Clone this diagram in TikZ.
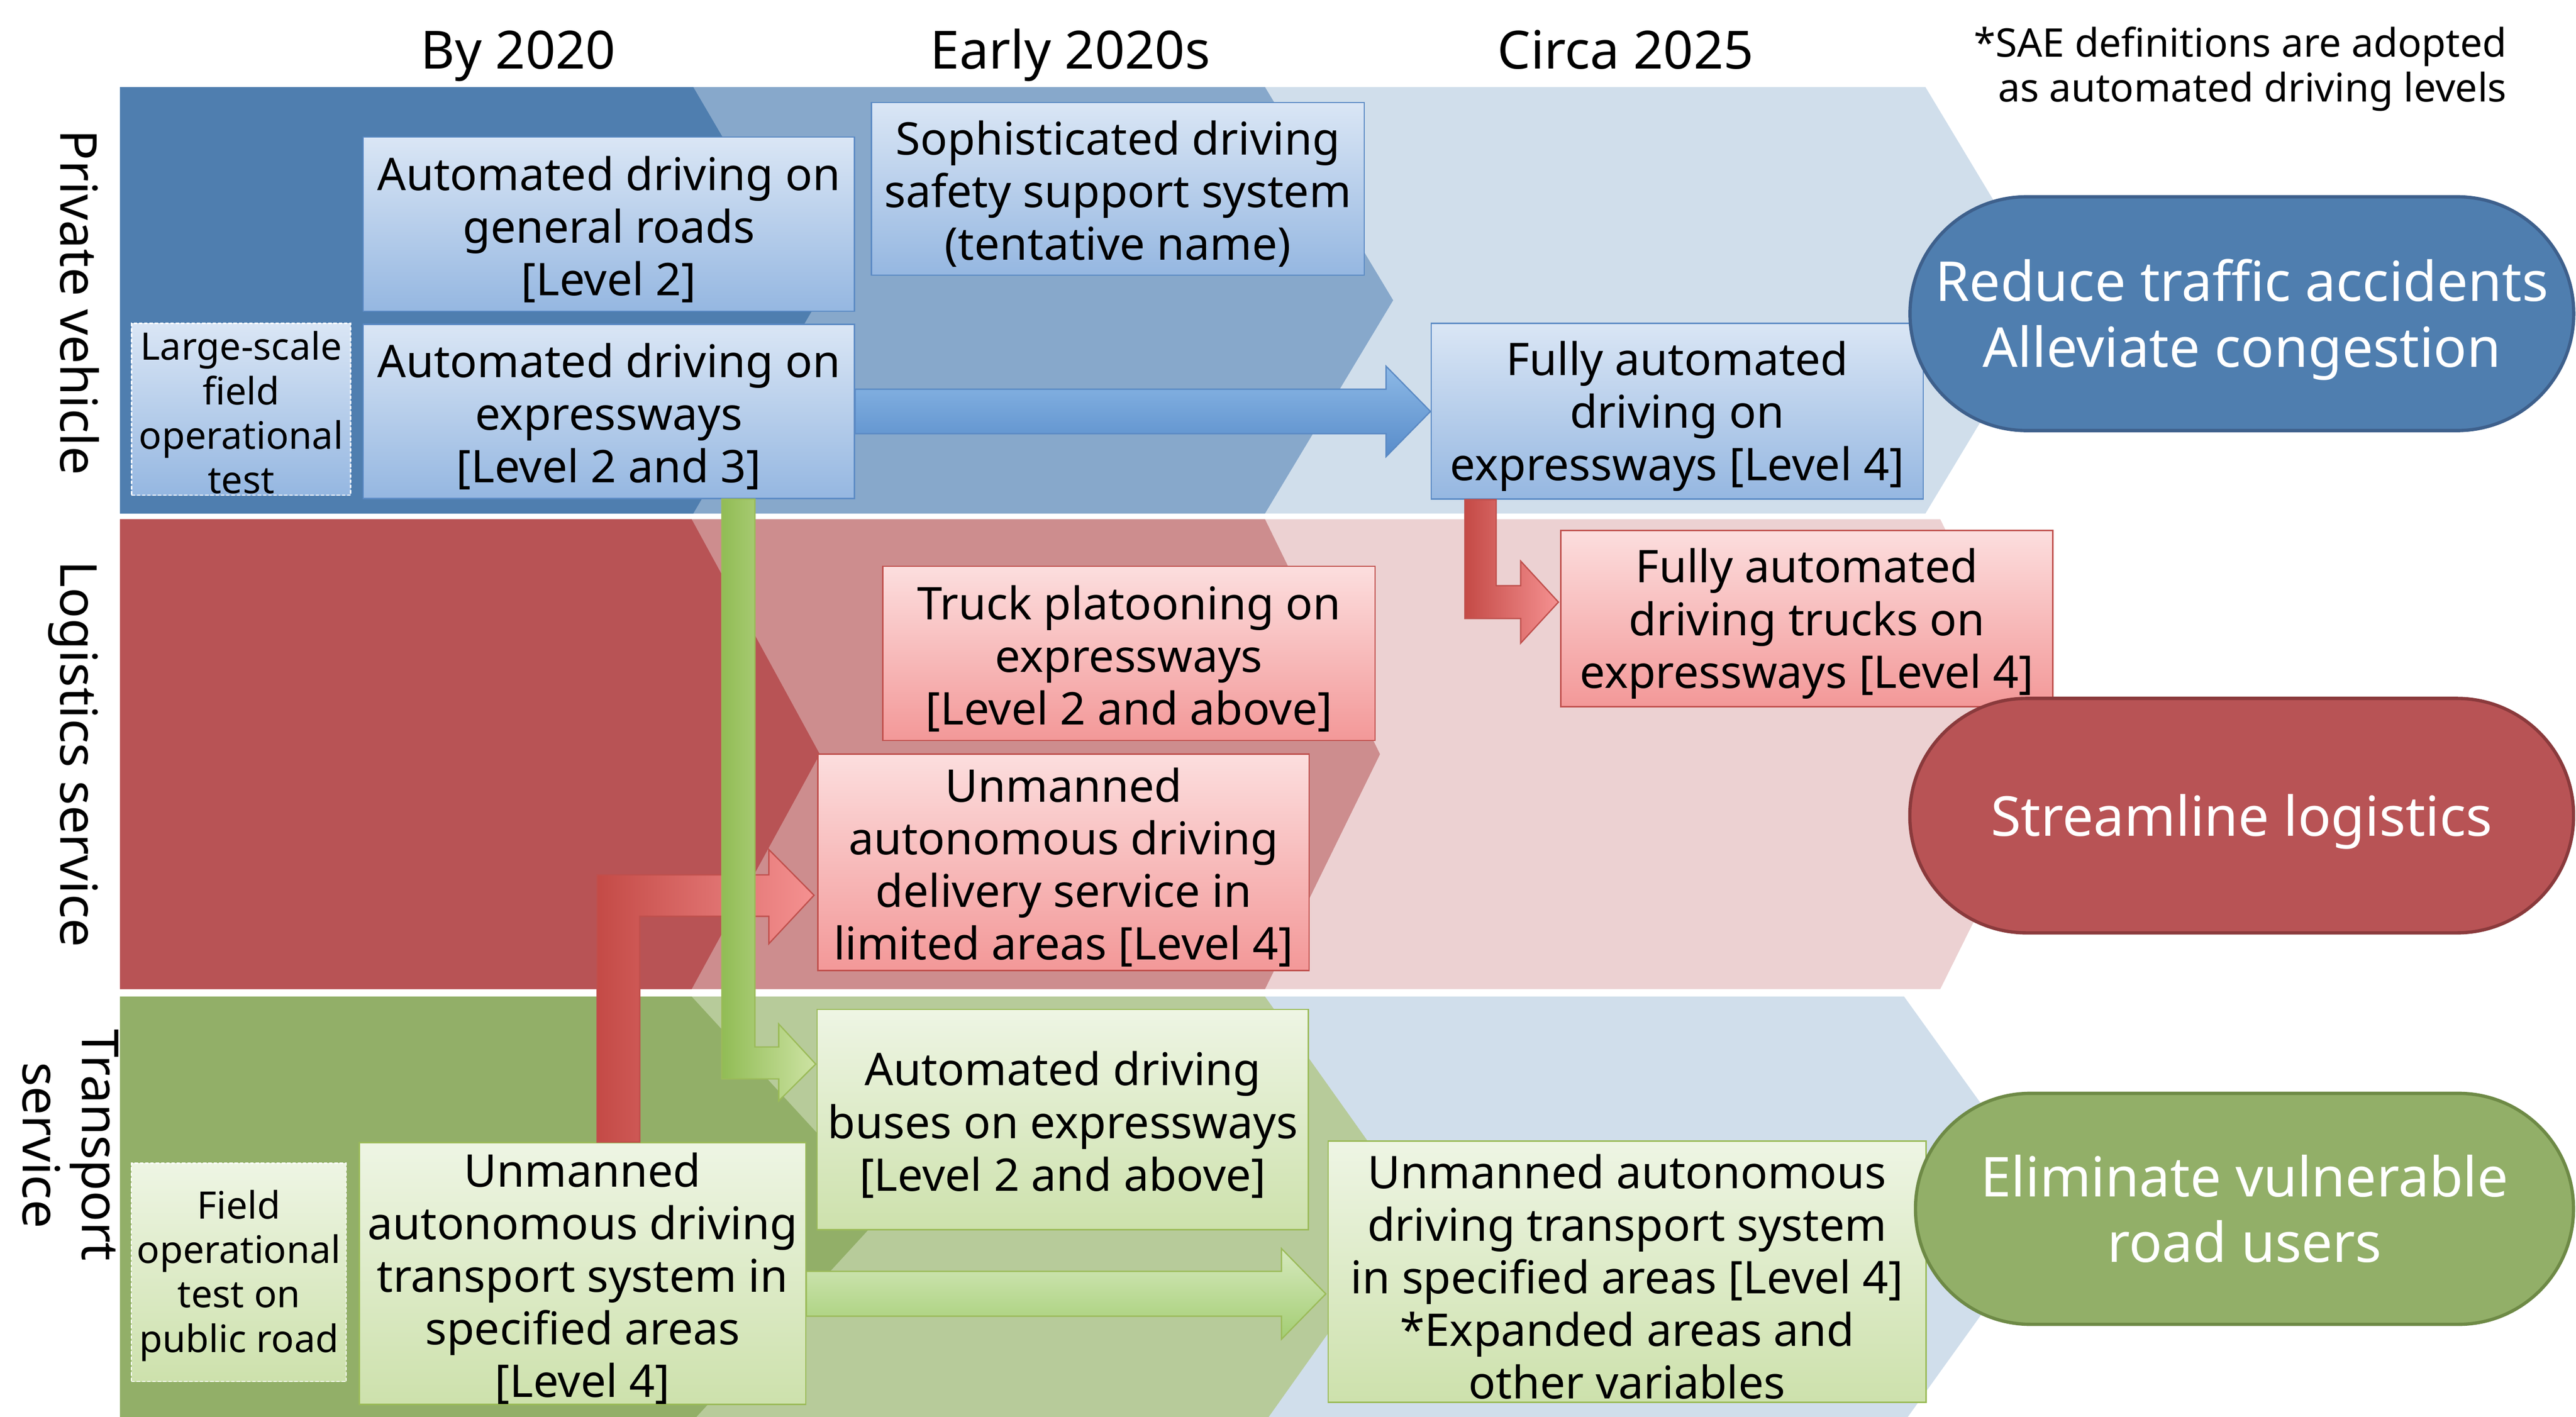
\documentclass[tikz,border=0pt]{standalone}
\usepackage{fontspec}
\setmainfont{Noto Sans}
\usetikzlibrary{calc}
\newcommand\myliftA{\rule{0pt}{27pt}}
\newcommand\myliftB{\rule{0pt}{21.5pt}}
\definecolor{bDark}{RGB}{79,126,175}
\definecolor{bMid}{RGB}{135,168,203}
\definecolor{bLight}{RGB}{208,222,235}
\definecolor{rDark}{RGB}{184,83,85}
\definecolor{rMid}{RGB}{205,141,142}
\definecolor{rLight}{RGB}{236,209,210}
\definecolor{gDark}{RGB}{146,175,104}
\definecolor{gMid}{RGB}{183,203,154}
\definecolor{bBoxTop}{RGB}{218,230,245}
\definecolor{bBoxBot}{RGB}{149,183,225}
\definecolor{bBoxLine}{RGB}{91,138,196}
\definecolor{rBoxTop}{RGB}{252,222,222}
\definecolor{rBoxBot}{RGB}{243,152,152}
\definecolor{rBoxLine}{RGB}{192,80,77}
\definecolor{gBoxTop}{RGB}{238,245,228}
\definecolor{gBoxBot}{RGB}{205,225,172}
\definecolor{gBoxLine}{RGB}{155,187,89}
\definecolor{bOvalLine}{RGB}{62,96,140}
\definecolor{rOvalLine}{RGB}{138,58,60}
\definecolor{gOvalLine}{RGB}{110,138,70}
\definecolor{bArrTop}{RGB}{141,185,230}
\definecolor{bArrBot}{RGB}{88,140,202}
\definecolor{rArrL}{RGB}{196,74,70}
\definecolor{rArrR}{RGB}{245,145,145}
\definecolor{gArrL}{RGB}{145,188,85}
\definecolor{gArrR}{RGB}{205,227,163}
\definecolor{gArrTop}{RGB}{214,233,190}
\definecolor{gArrBot}{RGB}{163,205,114}
\begin{document}
\begin{tikzpicture}[x=1pt,y=-1pt,
  tbox/.style={draw, line width=0.8pt, inner sep=0pt, align=center, anchor=north west,
    font=\fontsize{27.4}{32}\selectfont},
  smallbox/.style={tbox, draw=white, dash pattern=on 2pt off 1.2pt,
    font=\fontsize{23}{27}\selectfont},
  bluebox/.style={top color=bBoxTop, bottom color=bBoxBot, draw=bBoxLine},
  redbox/.style={top color=rBoxTop, bottom color=rBoxBot, draw=rBoxLine},
  greenbox/.style={top color=gBoxTop, bottom color=gBoxBot, draw=gBoxLine},
  oval/.style={line width=2pt, inner sep=0pt, align=center, text=white,
    font=\fontsize{33.5}{40}\selectfont},
  header/.style={anchor=base, inner sep=0pt, font=\fontsize{32}{38}\selectfont},
  rowlabel/.style={rotate=-90, inner sep=0pt, align=center, font=\fontsize{31}{36}\selectfont},
  blockarrow/.style={line width=0.8pt}
]
\useasboundingbox (0,0) rectangle (1568,862.3);
% ---------- bands ----------
\fill[bLight] (73,53) -- (1172,53) -- (1250,182.75) -- (1172,312.5) -- (73,312.5) -- cycle;
\fill[bMid] (73,53) -- (770,53) -- (848,182.75) -- (770,312.5) -- (73,312.5) -- cycle;
\fill[bDark] (73,53) -- (422,53) -- (498,182.75) -- (422,312.5) -- (73,312.5) -- cycle;
\fill[rLight] (73,316) -- (1181,316) -- (1252,459) -- (1181,602) -- (73,602) -- cycle;
\fill[rMid] (73,316) -- (770,316) -- (840,459) -- (770,602) -- (73,602) -- cycle;
\fill[rDark] (73,316) -- (421,316) -- (499,459) -- (421,602) -- (73,602) -- cycle;
\fill[bLight] (73,606.5) -- (1159,606.5) -- (1252,736) -- (1159,865.5) -- (73,865.5) -- cycle;
\fill[gMid] (73,606.5) -- (770,606.5) -- (862,736) -- (770,865.5) -- (73,865.5) -- cycle;
\fill[gDark] (73,606.5) -- (421,606.5) -- (540,736) -- (421,865.5) -- (73,865.5) -- cycle;
% ---------- headers ----------
\node[header] (h1) at (315.5,42) {By 2020};
\node[header] (h2) at (651.5,42) {Early 2020s};
\node[header] (h3) at (989.5,42) {Circa 2025};
\node[anchor=east, inner sep=0pt, align=right, font=\fontsize{24}{27}\selectfont] (note) at (1526,42)
  {*SAE definitions are adopted\\as automated driving levels};
% ---------- row labels ----------
\node[rowlabel, anchor=base] (l1) at (37,184) {Private vehicle};
\node[rowlabel, anchor=base] (l2) at (37,459) {Logistics service};
\node[rowlabel, anchor=center] (l3) at (43,697) {Transport\\service};
% ---------- boxes ----------
\node[tbox, bluebox, minimum width=299pt, minimum height=106pt] (b1) at (220.7,83)
  {\myliftA Automated driving on\\general roads\\{[Level 2]}};
\node[tbox, bluebox, minimum width=299pt, minimum height=106pt] (b2) at (220.7,197)
  {\myliftA Automated driving on\\expressways\\{[Level 2 and 3]}};
\node[smallbox, bluebox, draw=white, minimum width=133.3pt, minimum height=104.7pt] (b3) at (79.7,196.3)
  {\myliftB Large-scale\\field\\operational\\test};
\node[tbox, bluebox, minimum width=300pt, minimum height=105pt] (b4) at (530,62)
  {\myliftA Sophisticated driving\\safety support system\\(tentative name)};
\node[tbox, bluebox, minimum width=299.6pt, minimum height=107pt] (b5) at (870.7,196.3)
  {\myliftA Fully automated\\driving on\\expressways [Level 4]};
\node[tbox, redbox, minimum width=299.6pt, minimum height=107.3pt] (b6) at (949.6,322.4)
  {\myliftA Fully automated\\driving trucks on\\expressways [Level 4]};
\node[tbox, redbox, minimum width=299.6pt, minimum height=106pt] (b7) at (537,344.3)
  {\myliftA Truck platooning on\\expressways\\{[Level 2 and above]}};
\node[tbox, redbox, minimum width=299pt, minimum height=131.7pt] (b8) at (497.5,458.6)
  {\myliftA Unmanned\\autonomous driving\\delivery service in\\limited areas [Level 4]};
\node[tbox, greenbox, minimum width=299pt, minimum height=134pt] (b9) at (497,614)
  {\myliftA Automated driving\\buses on expressways\\{[Level 2 and above]}};
\node[tbox, greenbox, minimum width=271.6pt, minimum height=158pt] (b10) at (218.4,695)
  {\myliftA Unmanned\\autonomous driving\\transport system in\\specified areas\\{[Level 4]}};
\node[smallbox, greenbox, draw=white, minimum width=130.8pt, minimum height=132.8pt] (b11) at (79.6,707.6)
  {\myliftB Field\\operational\\test on\\public road};
\node[tbox, greenbox, minimum width=364pt, minimum height=159pt] (b12) at (808,694.1)
  {\myliftA Unmanned autonomous\\driving transport system\\in specified areas [Level 4]\\*Expanded areas and\\other variables};
% ---------- ovals ----------
\node[oval, fill=bDark, draw=bOvalLine, minimum width=404pt, minimum height=142.3pt, rounded corners=71pt] (o1)
  at (1364.6,190.9) {\rule{0pt}{33pt}Reduce traffic accidents\\Alleviate congestion};
\node[oval, fill=rDark, draw=rOvalLine, minimum width=404pt, minimum height=142.7pt, rounded corners=71pt] (o2)
  at (1364.5,496.4) {\rule{0pt}{33pt}Streamline logistics};
\node[oval, fill=gDark, draw=gOvalLine, minimum width=400.5pt, minimum height=140.6pt, rounded corners=70pt] (o3)
  at (1366.2,735.7) {Eliminate vulnerable\\road users};
% ---------- block arrows ----------
% blue: b2 -> b5
\path[blockarrow, draw=bBoxLine, top color=bArrTop, bottom color=bArrBot]
  let \p1=(b2.east), \p2=(b5.west) in
  (\x1,\y1+13.5pt) -- (\x2-27pt,\y1+13.5pt) -- (\x2-27pt,\y1+27.5pt) -- (\x2,\y1)
  -- (\x2-27pt,\y1-27.5pt) -- (\x2-27pt,\y1-13.5pt) -- (\x1,\y1-13.5pt) -- cycle;
% red: b5 -> b6
\path[blockarrow, draw=rBoxLine, left color=rArrL, right color=rArrR]
  let \p1=(b5.south west), \p2=(b6.west) in
  (\x1+21pt,\y1) -- (\x1+40pt,\y1) -- (\x1+40pt,\y2+20pt) -- (\x2-24pt,\y2+20pt)
  -- (\x2-24pt,\y2+35pt) -- (\x2-1pt,\y2+10pt) -- (\x2-24pt,\y2-15pt) -- (\x2-24pt,\y2)
  -- (\x1+21pt,\y2) -- cycle;
% red: b10 -> b8
\path[blockarrow, draw=rBoxLine, left color=rArrL, right color=rArrR]
  let \p1=(b10.north west), \p2=(b8.west) in
  (\x1+145pt,\y1) -- (\x1+145pt,\y2-7.6pt) -- (\x2-29.5pt,\y2-7.6pt) -- (\x2-29.5pt,\y2+7.8pt)
  -- (\x2-2pt,\y2-20pt) -- (\x2-29.5pt,\y2-49.5pt) -- (\x2-29.5pt,\y2-32.8pt)
  -- (\x1+171pt,\y2-32.8pt) -- (\x1+171pt,\y1) -- cycle;
% green: b2 -> b9
\path[blockarrow, draw=gBoxLine, left color=gArrL, right color=gArrR]
  let \p1=(b2.south west), \p2=(b9.north west) in
  (\x1+218.7pt,\y1) -- (\x1+238.8pt,\y1) -- (\x1+238.8pt,\y2-23.2pt) -- (\x2-23pt,\y2-23.2pt)
  -- (\x2-23pt,\y2-9.2pt) -- (\x2-0.5pt,\y2-33.6pt) -- (\x2-23pt,\y2-56pt) -- (\x2-23pt,\y2-42.6pt)
  -- (\x1+218.7pt,\y2-42.6pt) -- cycle;
% green: b10 -> b12
\path[blockarrow, draw=gBoxLine, top color=gArrTop, bottom color=gArrBot]
  let \p1=(b10.east), \p2=(b12.west) in
  (\x1,\y1+1.3pt) -- (\x2-28pt,\y1+1.3pt) -- (\x2-28pt,\y1+15.2pt) -- (\x2-1pt,\y1-12.4pt)
  -- (\x2-28pt,\y1-40pt) -- (\x2-28pt,\y1-26pt) -- (\x1,\y1-26pt) -- cycle;
\end{tikzpicture}
\end{document}
